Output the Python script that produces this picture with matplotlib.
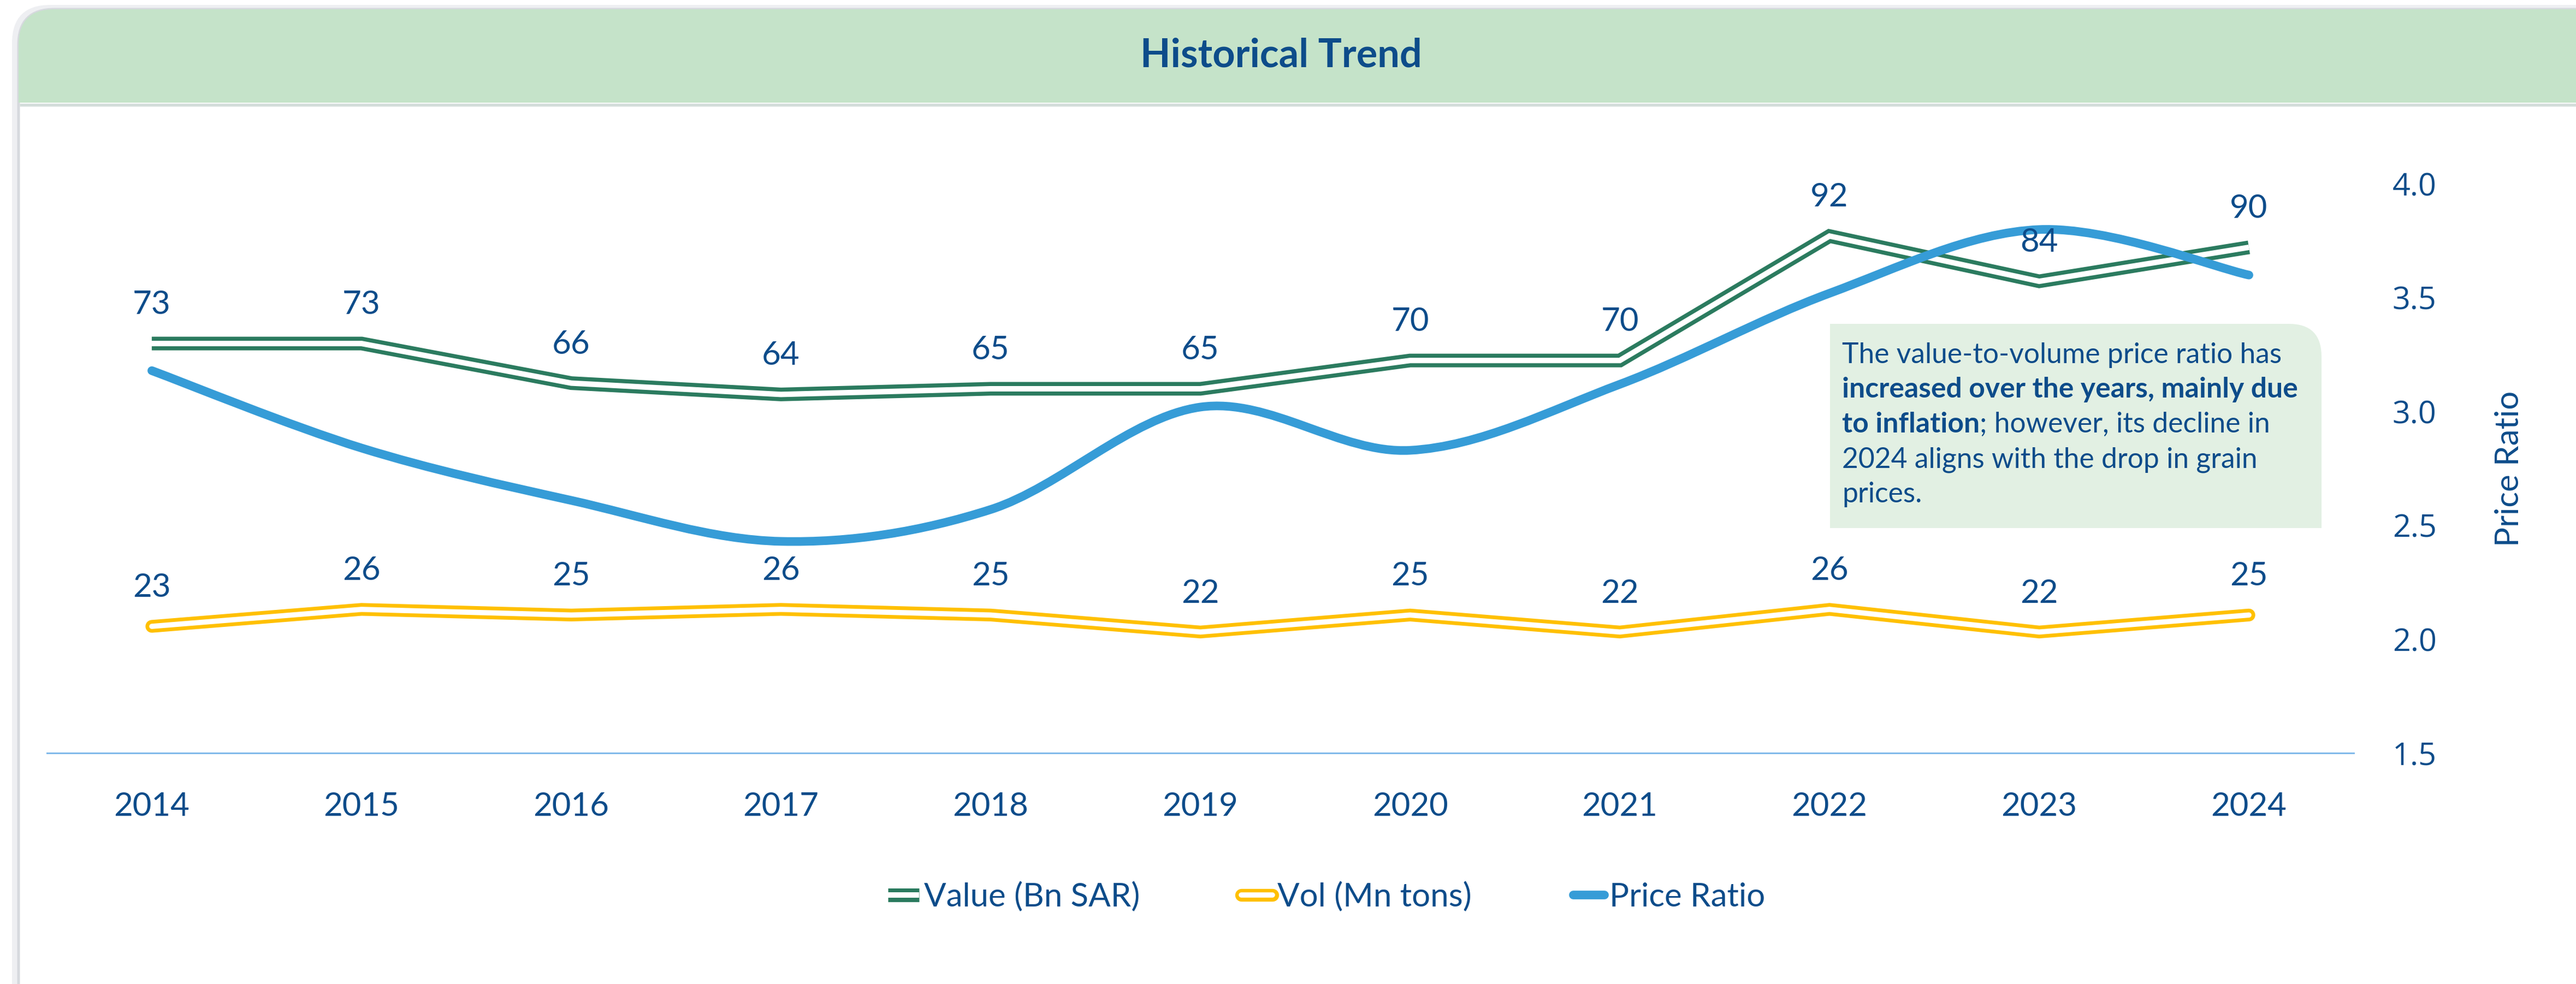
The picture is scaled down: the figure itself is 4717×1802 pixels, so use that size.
import matplotlib
matplotlib.use("Agg")
import matplotlib.pyplot as plt
import matplotlib.patheffects as pe
from matplotlib.patches import FancyBboxPatch, Rectangle, PathPatch
from matplotlib.path import Path
from matplotlib.lines import Line2D

plt.rcParams['font.family'] = ['Lato', 'DejaVu Sans']

# data
years = ['2014', '2015', '2016', '2017', '2018', '2019', '2020', '2021', '2022', '2023', '2024']
value_bn_sar = [73, 73, 66, 64, 65, 65, 70, 70, 92, 84, 90]
vol_mn_tons = [23, 26, 25, 26, 25, 22, 25, 22, 26, 22, 25]
price_ratio = [3.18, 2.84, 2.61, 2.43, 2.57, 3.02, 2.83, 3.12, 3.52, 3.80, 3.60]
ratio_ticks = [1.5, 2.0, 2.5, 3.0, 3.5, 4.0]

note_lines = [
    [("The value-to-volume price ratio has", 'normal')],
    [("increased over the years, mainly due", 'bold')],
    [("to inflation", 'bold'), ("; however, its decline in", 'normal')],
    [("2024 aligns with the drop in grain", 'normal')],
    [("prices.", 'normal')],
]

# colours
TXT = '#0D4C8A'
GREEN = '#2B7B5F'
YELLOW = '#FFC000'
BLUE = '#369CD7'
AXIS = '#7DB7EA'
HEAD = '#C5E3C9'
NOTE = '#E2F0E3'

W, H, DPI = 4717, 1802, 300
fig = plt.figure(figsize=(W / DPI, H / DPI), dpi=DPI)
fig.patch.set_facecolor('white')

# background card drawn in pixel units
bg = fig.add_axes([0, 0, 1, 1], zorder=0)
bg.set_xlim(0, W)
bg.set_ylim(H, 0)
bg.axis('off')
bg.add_patch(FancyBboxPatch((22, 9), 5200, 2500, boxstyle="round,pad=0,rounding_size=70",
                            facecolor='#EEEFF2', edgecolor='none'))
bg.add_patch(FancyBboxPatch((34, 17), 5200, 2500, boxstyle="round,pad=0,rounding_size=65",
                            facecolor='white', edgecolor='#D6D9DE', linewidth=1.2))
bg.add_patch(FancyBboxPatch((34, 17), 5200, 171, boxstyle="round,pad=0,rounding_size=65",
                            facecolor=HEAD, edgecolor='none'))
bg.add_patch(Rectangle((34, 110), 300, 78, facecolor=HEAD, edgecolor='none'))
bg.plot([36, W], [192, 192], color='#D3DDDA', lw=1.3, solid_capstyle='butt')
bg.text(2346, 102, 'Historical Trend', ha='center', va='center', fontsize=17.3,
        fontweight='bold', color=TXT)

# main chart: value and volume share the hidden left axis
ax = fig.add_axes([0.01823, 0.2347, 0.8955, 0.5783], zorder=1)
ax.set_facecolor('none')
x = list(range(len(years)))

value_fx = [pe.Stroke(linewidth=6.0, foreground=GREEN), pe.Stroke(linewidth=2.4, foreground='white')]
vol_fx = [pe.Stroke(linewidth=5.6, foreground=YELLOW), pe.Stroke(linewidth=2.3, foreground='white')]

ax.plot(x, value_bn_sar, color=GREEN, lw=6.0, solid_joinstyle='miter', solid_capstyle='butt',
        path_effects=value_fx)
ax.plot(x, vol_mn_tons, color=YELLOW, lw=5.6, solid_joinstyle='miter', solid_capstyle='round',
        path_effects=vol_fx)

ax.set_xlim(-0.5, len(years) - 0.5)
ax.set_ylim(0.6, 101.2)
ax.set_yticks([])
ax.set_xticks(x)
ax.set_xticklabels(years)
ax.tick_params(axis='x', length=0, pad=17, labelsize=14.4, labelcolor=TXT)
for s in ['top', 'left', 'right']:
    ax.spines[s].set_visible(False)
ax.spines['bottom'].set_color(AXIS)
ax.spines['bottom'].set_linewidth(0.7)

# price ratio on the right axis, smoothed like the original
ax2 = ax.twinx()
ax2.set_ylim(1.5, 4.0)
ax2.set_yticks(ratio_ticks)
ax2.set_yticklabels([f'{t:.1f}' for t in ratio_ticks], family='Open Sans')
ax2.tick_params(axis='y', length=0, pad=17, labelsize=13.8, labelcolor=TXT)
for s in ax2.spines.values():
    s.set_visible(False)
ax2.set_ylabel('Price Ratio', fontsize=14.4, color=TXT)
ax2.yaxis.set_label_coords(1.061, 0.5)

n = len(price_ratio)
verts = [(0, price_ratio[0])]
codes = [Path.MOVETO]
for i in range(n - 1):
    p0 = price_ratio[max(i - 1, 0)]
    p1 = price_ratio[i]
    p2 = price_ratio[i + 1]
    p3 = price_ratio[min(i + 2, n - 1)]
    x0 = max(i - 1, 0)
    x3 = min(i + 2, n - 1)
    c1 = (i + (i + 1 - x0) / 6, p1 + (p2 - p0) / 6)
    c2 = (i + 1 - (x3 - i) / 6, p2 - (p3 - p1) / 6)
    verts += [c1, c2, (i + 1, p2)]
    codes += [Path.CURVE4] * 3
ax2.add_patch(PathPatch(Path(verts, codes), fill=False, edgecolor=BLUE, lw=3.8,
                        capstyle='round', joinstyle='round'))

# data labels above the double lines
for i in x:
    ax2.annotate(str(value_bn_sar[i]), (i, value_bn_sar[i]), xycoords=ax.transData,
                 xytext=(0, 17), textcoords='offset points', ha='center', va='center',
                 fontsize=14.4, color=TXT)
    ax2.annotate(str(vol_mn_tons[i]), (i, vol_mn_tons[i]), xycoords=ax.transData,
                 xytext=(0, 17), textcoords='offset points', ha='center', va='center',
                 fontsize=14.4, color=TXT)

handles = [
    Line2D([], [], color=GREEN, lw=6.0, solid_capstyle='butt', path_effects=value_fx),
    Line2D([], [], color=YELLOW, lw=5.6, solid_capstyle='round', path_effects=vol_fx),
    Line2D([], [], color=BLUE, lw=3.8, solid_capstyle='round'),
]
fig.legend(handles, ['Value (Bn SAR)', 'Vol (Mn tons)', 'Price Ratio'], loc='center',
           bbox_to_anchor=(0.515, 0.0885), ncol=3, frameon=False, fontsize=14.4,
           labelcolor=TXT, handlelength=0.95, handletextpad=0.15, columnspacing=3.1)

# note box on top of the chart
top = fig.add_axes([0, 0, 1, 1], zorder=5)
top.set_xlim(0, W)
top.set_ylim(H, 0)
top.axis('off')
top.add_patch(FancyBboxPatch((3351, 593), 900, 374, boxstyle="round,pad=0,rounding_size=60",
                             facecolor=NOTE, edgecolor='none'))
top.add_patch(Rectangle((3351, 593), 500, 374, facecolor=NOTE, edgecolor='none'))
top.add_patch(Rectangle((3351, 780), 900, 187, facecolor=NOTE, edgecolor='none'))
baselines = [665, 728, 792, 856, 920]
for yb, parts in zip(baselines, note_lines):
    prev = None
    for txt, wt in parts:
        if prev is None:
            prev = top.text(3373, yb, txt, ha='left', va='baseline', fontsize=12.4,
                            fontweight=wt, color=TXT)
        else:
            prev = top.annotate(txt, xy=(1, 0), xycoords=prev, ha='left', va='bottom',
                                fontsize=12.4, fontweight=wt, color=TXT)

fig.savefig('out.png', dpi=DPI)
